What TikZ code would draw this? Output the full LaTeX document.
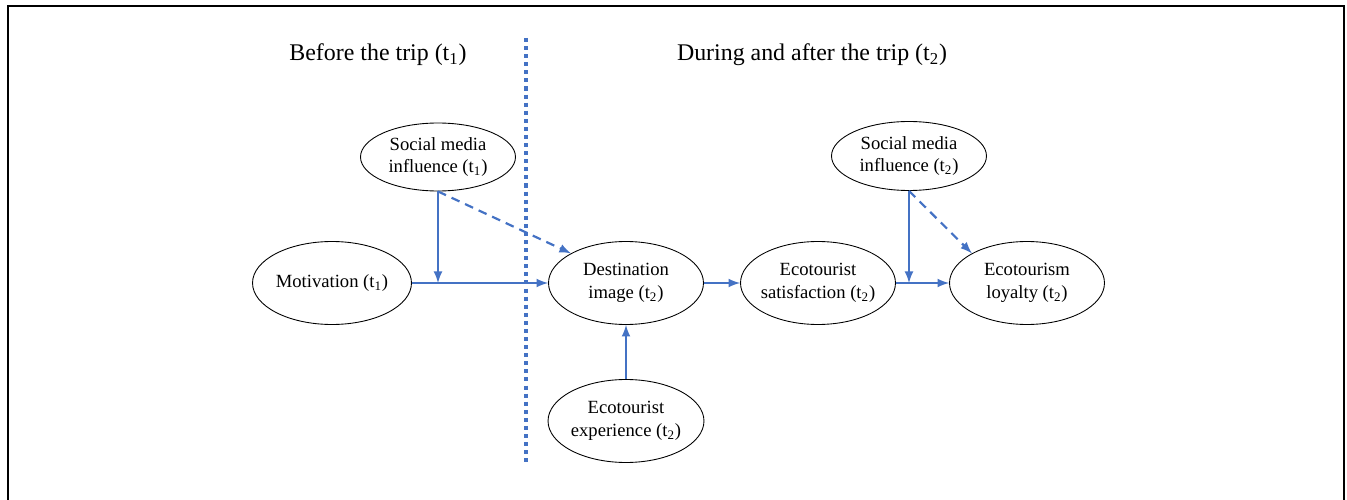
\documentclass[tikz,border=0pt]{standalone}
\usepackage{fontspec}
\setmainfont{Liberation Serif}
\usetikzlibrary{shapes.geometric}
\definecolor{linkblue}{RGB}{68,114,196}
\begin{document}
\begin{tikzpicture}[x=0.02cm, y=-0.02cm,
    var/.style={draw, ellipse, line width=0.5pt, inner sep=0pt, minimum width=3.1cm, minimum height=1.66cm, align=center, font=\fontsize{10.6}{12.8}\selectfont},
    link/.style={draw=linkblue, line width=1.25pt, -latex},
    heading/.style={font=\fontsize{13.6}{16}\selectfont}]
        \useasboundingbox (0,0) rectangle (1347,500);
        \draw[line width=1.3pt] (8,530) -- (8,6) -- (1344,6) -- (1344,530);
        % time periods
        \draw[linkblue, line width=2.3pt, dash pattern=on 2.3pt off 2.3pt] (526,38) -- (526,465);
        \node[heading] (before) at (378,55) {Before the trip (t\textsubscript{1})};
        \node[heading] (during) at (812,55) {During and after the trip (t\textsubscript{2})};
        % constructs
        \node[var, minimum height=1.36cm] (smi1) at (438,157) {Social media\\influence (t\textsubscript{1})};
        \node[var] (mot) at (332,283) {Motivation (t\textsubscript{1})};
        \node[var] (dest) at (626,283) {Destination\\image (t\textsubscript{2})};
        \node[var, inner xsep=-3pt] (sat) at (818,283) {Ecotourist\\satisfaction (t\textsubscript{2})};
        \node[var] (loy) at (1027,283) {Ecotourism\\loyalty (t\textsubscript{2})};
        \node[var, minimum height=1.38cm] (smi2) at (909,156) {Social media\\influence (t\textsubscript{2})};
        \node[var] (exp) at (626,421) {Ecotourist\\experience (t\textsubscript{2})};
        \coordinate (j1) at (smi1.south |- mot.east);
        \coordinate (j2) at (smi2.south |- sat.east);
        % paths
        \draw[link] (mot.east) -- (dest.west);
        \draw[link] (smi1.south) -- (j1);
        \draw[link, dashed, dash pattern=on 5pt off 3.5pt] (smi1.south) -- (dest.north west);
        \draw[link] (dest.east) -- (sat.west);
        \draw[link] (sat.east) -- (loy.west);
        \draw[link] (smi2.south) -- (j2);
        \draw[link, dashed, dash pattern=on 5pt off 3.5pt] (smi2.south) -- (loy.north west);
        \draw[link] (exp.north) -- (dest.south);
\end{tikzpicture}
\end{document}
